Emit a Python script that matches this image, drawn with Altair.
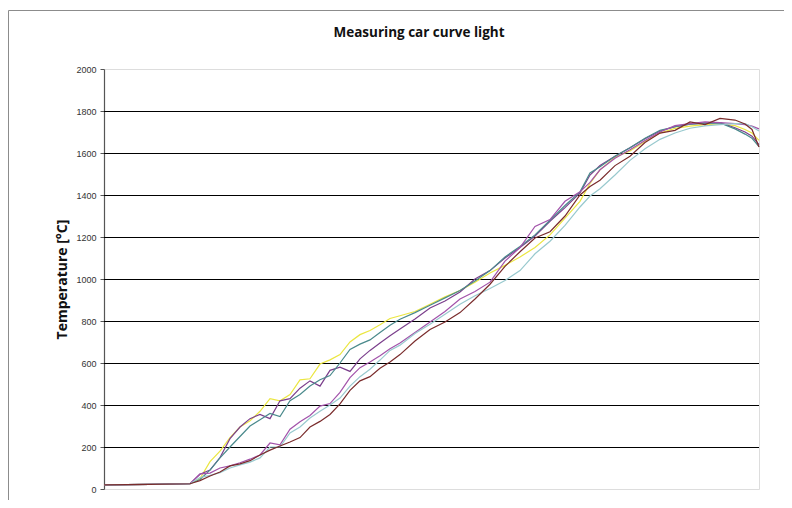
import altair as alt
import pandas as pd

# sample times (arbitrary units, no x labels in the original)
PX = [104, 150, 190,
      200, 210, 220, 230, 240, 250, 260, 270, 280, 290, 300, 310, 320, 330, 340, 350, 360, 370, 380, 390, 400,
      415, 430, 445, 460, 475, 490, 505, 520, 535, 550, 565, 580,
      590, 600, 615, 630, 645, 660, 675, 690, 705, 720, 735, 745, 752, 759]
time = [p - 104 for p in PX]

start = [20, 22, 25]

yellow = start + [50, 130, 180, 245, 295, 325, 370, 430, 420, 450, 520, 525, 595, 615, 640, 700, 735, 755, 782, 812, 825,
                  845, 880, 915, 945, 985, 1029, 1065, 1105, 1150, 1210, 1290, 1370,
                  1455, 1520, 1580, 1610, 1655, 1695, 1717, 1728, 1735, 1738, 1730, 1712, 1695, 1660]
purple = start + [70, 90, 150, 240, 295, 335, 355, 335, 420, 430, 480, 515, 490, 565, 580, 560, 620, 660, 695, 730, 762,
                  810, 862, 895, 938, 1000, 1040, 1100, 1150, 1205, 1275, 1340, 1410,
                  1495, 1540, 1585, 1625, 1668, 1705, 1725, 1737, 1742, 1745, 1720, 1700, 1680, 1640]
teal = start + [45, 90, 148, 200, 250, 300, 330, 360, 345, 420, 450, 490, 520, 540, 600, 665, 690, 710, 745, 780, 808,
                840, 875, 910, 945, 990, 1040, 1105, 1155, 1210, 1280, 1350, 1415,
                1505, 1535, 1585, 1625, 1670, 1708, 1725, 1737, 1742, 1743, 1715, 1690, 1670, 1630]
violet = start + [72, 76, 100, 110, 125, 142, 162, 219, 210, 285, 320, 350, 395, 407, 460, 530, 578, 605, 635, 668, 695,
                  745, 795, 845, 905, 940, 985, 1085, 1150, 1250, 1283, 1370, 1415,
                  1460, 1520, 1575, 1615, 1660, 1700, 1730, 1740, 1748, 1745, 1740, 1735, 1728, 1715]
lightblue = start + [55, 65, 78, 100, 115, 128, 148, 200, 200, 267, 295, 338, 370, 400, 433, 490, 535, 570, 614, 660, 685,
                     740, 785, 832, 880, 920, 955, 993, 1040, 1120, 1180, 1255, 1343,
                     1395, 1430, 1495, 1565, 1620, 1665, 1695, 1718, 1729, 1735, 1740, 1740, 1725, 1705]
maroon = start + [40, 62, 81, 110, 120, 135, 162, 185, 205, 224, 245, 295, 322, 355, 405, 470, 515, 535, 575, 605, 640,
                  705, 760, 795, 840, 905, 975, 1060, 1130, 1195, 1225, 1300, 1400,
                  1440, 1470, 1540, 1585, 1650, 1695, 1708, 1748, 1735, 1765, 1757, 1738, 1712, 1629]

series_names = ["Sensor 1", "Sensor 2", "Sensor 3", "Sensor 4", "Sensor 5", "Sensor 6"]
series_vals = [yellow, purple, teal, violet, lightblue, maroon]
colors = ["#ebe640", "#7b3f8c", "#4a8a8c", "#a252aa", "#98c9ce", "#7a2c2c"]

grid_values = [200, 400, 600, 800, 1000, 1200, 1400, 1600, 1800]
tick_values = [0, 200, 400, 600, 800, 1000, 1200, 1400, 1600, 1800, 2000]
chart_title = "Measuring car curve light"

rows = []
for name, vals in zip(series_names, series_vals):
    for t, v in zip(time, vals):
        rows.append({"time": t, "temp": v, "series": name})
df = pd.DataFrame(rows)
grid_df = pd.DataFrame({"g": grid_values})
title_df = pd.DataFrame({"title": [chart_title]})

x_scale = alt.Scale(domain=[0, 655], nice=False, zero=False)
y_scale = alt.Scale(domain=[0, 2000], nice=False)

# outer chart frame (decoration, like the spreadsheet chart border)
frame = alt.Chart(title_df).mark_rect(
    fill=None, stroke="#8c8c8c", strokeWidth=1, clip=False
).encode(
    x=alt.value(-95.5), x2=alt.value(720), y=alt.value(-58.5), y2=alt.value(470)
)

title = alt.Chart(title_df).mark_text(
    font="Open Sans", fontSize=13.5, fontWeight="bold", color="#111111",
    align="center", baseline="alphabetic"
).encode(
    text="title:N", x=alt.value(315), y=alt.value(-32)
)

grid = alt.Chart(grid_df).mark_rule(color="#000000", strokeWidth=1, yOffset=0.5).encode(
    y=alt.Y("g:Q", scale=y_scale)
)

lines = alt.Chart(df).mark_line(strokeWidth=1.2, interpolate="linear").encode(
    x=alt.X("time:Q", scale=x_scale, axis=None),
    y=alt.Y("temp:Q", scale=y_scale,
            axis=alt.Axis(values=tick_values, format="d", grid=False, title="Temperature [°C]",
                          titleFont="Open Sans", titleFontSize=14, titleFontWeight="bold",
                          titleColor="#111111", titlePadding=6,
                          labelFont="Liberation Sans", labelFontSize=9, labelColor="#333333",
                          labelPadding=4, tickSize=4, tickColor="#555555",
                          domainColor="#555555", domainWidth=1.2)),
    color=alt.Color("series:N", scale=alt.Scale(domain=series_names, range=colors), legend=None),
    detail="series:N",
)

chart = alt.layer(frame, title, grid, lines).properties(
    width=655,
    height=420,
    autosize=alt.AutoSizeParams(type="none"),
    padding={"left": 96, "top": 61, "right": 25, "bottom": 11},
).configure_view(
    stroke="#9a9a9a", strokeWidth=1.5
).configure(background="white")

chart.save("out.html", embed_options={"renderer": "svg", "actions": False})
